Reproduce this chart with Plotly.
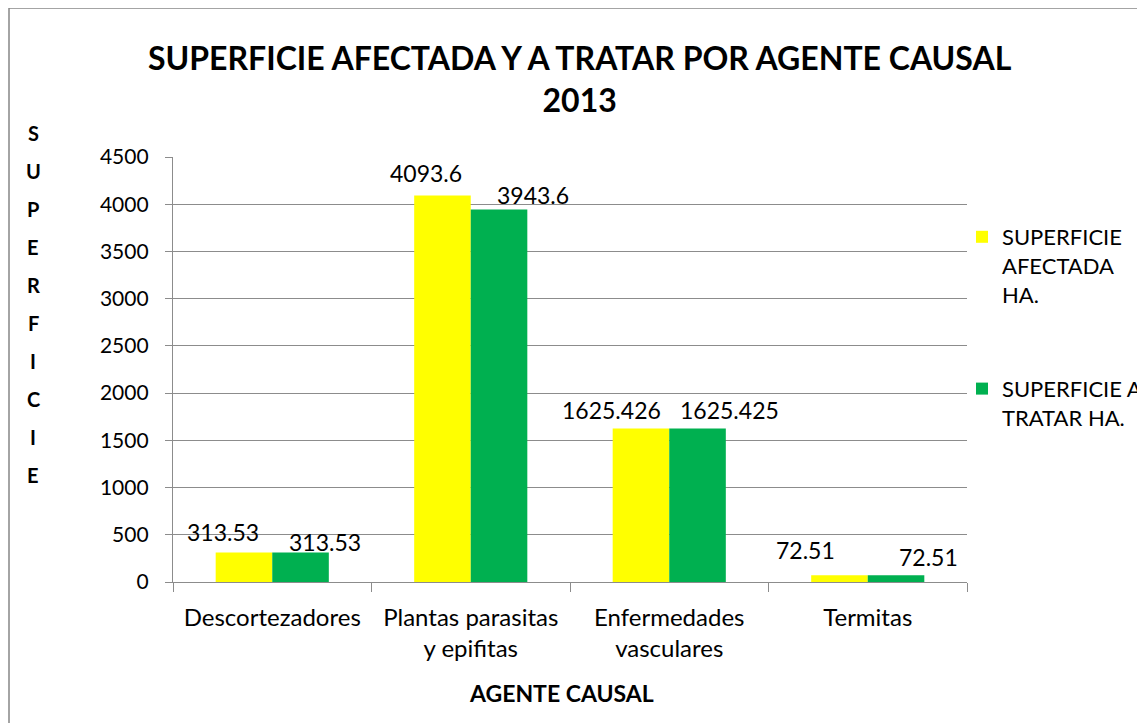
import plotly.graph_objects as go

categories = ["Descortezadores", "Plantas parasitas<br>y epifitas", "Enfermedades<br>vasculares", "Termitas"]
afectada = [313.53, 4093.6, 1625.426, 72.51]
tratar = [313.53, 3943.6, 1625.425, 72.51]
afectada_labels = ["313.53", "4093.6", "1625.426", "72.51"]
tratar_labels = ["313.53", "3943.6", "1625.425", "72.51"]
series_names = ["SUPERFICIE<br>AFECTADA<br>HA.", "SUPERFICIE A<br>TRATAR HA."]
title_text = "SUPERFICIE AFECTADA Y A TRATAR POR AGENTE CAUSAL<br>2013"
y_title = "SUPERFICIE"
x_title = "AGENTE CAUSAL"
y_ticks = [0, 500, 1000, 1500, 2000, 2500, 3000, 3500, 4000, 4500]

FONT = "Lato"
OFF = 8  # page body margin
W, H = 1145 - OFF, 723 - OFF
L, R, T, B = 173 - OFF, 1145 - 967, 157 - OFF, 723 - 582
PW, PH = W - L - R, H - T - B

def px_x(p):  # page pixel -> paper x
    return (p - OFF - L) / PW

def px_y(p):  # page pixel -> paper y
    return (H - B - (p - OFF)) / PH

fig = go.Figure()
fig.add_trace(go.Bar(x=categories, y=afectada, name=series_names[0],
                     marker=dict(color="#FFFF00", line=dict(width=0)), legendgroup="a"))
fig.add_trace(go.Bar(x=categories, y=tratar, name=series_names[1],
                     marker=dict(color="#00B050", line=dict(width=0)), legendgroup="b"))

annotations = []
# data label placement offsets (mimic the reference's moved labels)
a_shift = [(-21, 20), (-16, 22), (-29, 18), (-34, 25)]
t_shift = [(24, 10), (34, 15), (32, 18), (32, 18)]
for i, c in enumerate(categories):
    for vals, labs, shifts, off in ((afectada, afectada_labels, a_shift, -28.5),
                                    (tratar, tratar_labels, t_shift, 28.5)):
        annotations.append(dict(x=c, y=vals[i], xref="x", yref="y", text=labs[i], showarrow=False,
                                xanchor="center", yanchor="middle",
                                xshift=off + shifts[i][0], yshift=shifts[i][1],
                                font=dict(family=FONT, size=23, color="#000000")))

# title
annotations.append(dict(x=px_x(580), y=px_y(78), xref="paper", yref="paper", text="<b>" + title_text + "</b>",
                        showarrow=False, xanchor="center", yanchor="middle",
                        font=dict(family=FONT, size=32, color="#000000"), align="center"))
# vertical y-axis title, letter by letter
for i, ch in enumerate(y_title):
    annotations.append(dict(x=px_x(33), y=px_y(133 + i * 38.0), xref="paper", yref="paper",
                            text="<b>" + ch + "</b>", showarrow=False, xanchor="center", yanchor="middle",
                            font=dict(family=FONT, size=20, color="#000000")))
# x-axis title
annotations.append(dict(x=px_x(561), y=px_y(693), xref="paper", yref="paper", text="<b>" + x_title + "</b>",
                        showarrow=False, xanchor="center", yanchor="middle",
                        font=dict(family=FONT, size=23, color="#000000")))

fig.update_layout(
    width=W, height=H,
    margin=dict(l=L, r=R, t=T, b=B, autoexpand=False),
    paper_bgcolor="white", plot_bgcolor="white",
    barmode="group", bargap=0.43, bargroupgap=0,
    font=dict(family=FONT, size=20, color="#000000"),
    showlegend=True,
    legend=dict(x=px_x(962), y=px_y(216), xanchor="left", yanchor="top",
                font=dict(family=FONT, size=22, color="#000000"),
                tracegroupgap=63, traceorder="grouped", itemwidth=30, valign="top",
                bgcolor="rgba(0,0,0,0)"),
    annotations=annotations,
    shapes=[dict(type="rect", xref="paper", yref="paper",
                 x0=px_x(9), x1=px_x(1170), y0=px_y(760), y1=px_y(8),
                 line=dict(color="#868686", width=1.5), fillcolor="rgba(0,0,0,0)", layer="below")],
)
fig.update_yaxes(range=[0, 4500], tickvals=y_ticks, ticktext=[str(v) for v in y_ticks],
                 showgrid=True, gridcolor="#8C8C8C", gridwidth=1.3,
                 showline=True, linecolor="#8C8C8C", linewidth=1.3,
                 ticks="outside", ticklen=7, tickcolor="#8C8C8C", ticklabelstandoff=12,
                 tickfont=dict(family=FONT, size=21, color="#000000"), zeroline=False)
fig.update_xaxes(showline=True, linecolor="#8C8C8C", linewidth=1.3,
                 ticks="outside", ticklen=9, tickcolor="#8C8C8C", tickson="boundaries",
                 ticklabelstandoff=14,
                 tickfont=dict(family=FONT, size=24, color="#000000"), showgrid=False)

fig.write_html("out.html")
